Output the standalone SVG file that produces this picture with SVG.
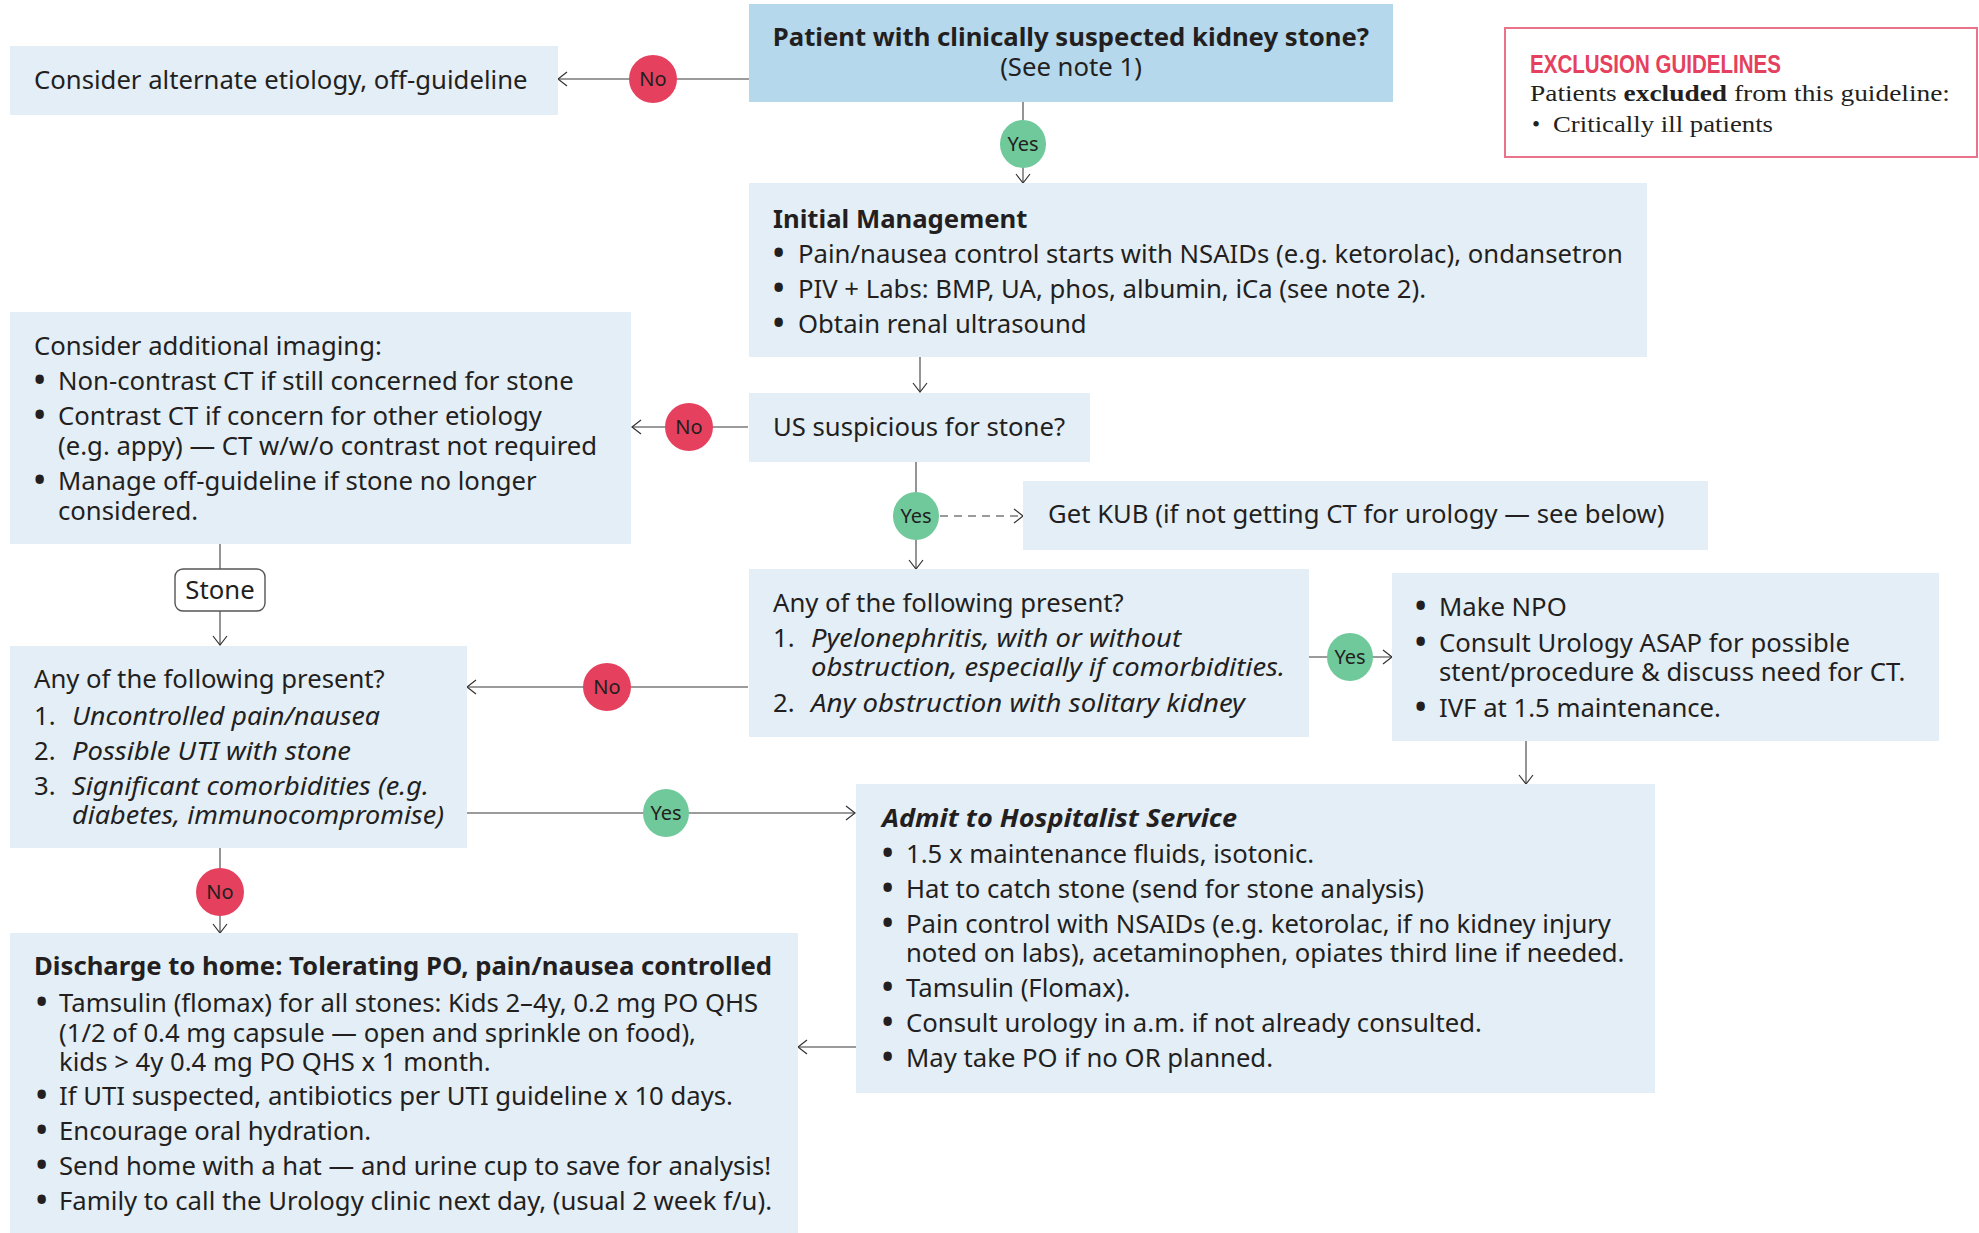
<svg xmlns="http://www.w3.org/2000/svg" width="1979" height="1233" viewBox="0 0 1979 1233">
<style>
.box{fill:#e3eef7}
.top{fill:#b5d8ec}
.t{font-family:"Noto Sans",sans-serif;font-size:25.7px;fill:#231f20}
.b{font-weight:bold}
.i{font-style:italic}
.bu{font-family:"Noto Sans",sans-serif;font-size:30px;font-weight:bold;fill:#231f20}
.ln{stroke:#7a7a7a;stroke-width:1.6;fill:none}
.no{fill:#e5405e}
.yes{fill:#6fc99a}
.lbl{font-family:"Noto Sans",sans-serif;font-size:20px;fill:#231f20;text-anchor:middle}
</style>
<defs>
<marker id="arr" viewBox="-11 -8 13 16" refX="0" refY="0" markerWidth="13" markerHeight="16" markerUnits="userSpaceOnUse" orient="auto">
<path d="M-9,-7 L0,0 L-9,7" fill="none" stroke="#333" stroke-width="1.2"/>
</marker>
</defs>

<g id="connectors">
<path class="ln" d="M749,79 H558" marker-end="url(#arr)"/>
<path class="ln" d="M1023,102 V183" marker-end="url(#arr)"/>
<path class="ln" d="M920,357 V392" marker-end="url(#arr)"/>
<path class="ln" d="M748,427 H632" marker-end="url(#arr)"/>
<path class="ln" d="M916,462 V569" marker-end="url(#arr)"/>
<path class="ln" d="M940,516 H1023" stroke-dasharray="8,6" marker-end="url(#arr)"/>
<path class="ln" d="M220,544 V569"/>
<path class="ln" d="M220,611 V645" marker-end="url(#arr)"/>
<path class="ln" d="M748,687 H467" marker-end="url(#arr)"/>
<path class="ln" d="M1309,657 H1392" marker-end="url(#arr)"/>
<path class="ln" d="M1526,741 V784" marker-end="url(#arr)"/>
<path class="ln" d="M467,813 H855" marker-end="url(#arr)"/>
<path class="ln" d="M220,848 V933" marker-end="url(#arr)"/>
<path class="ln" d="M856,1047 H798" marker-end="url(#arr)"/>

<circle class="no" cx="653" cy="79" r="24"/><text class="lbl" x="653" y="86">No</text>
<ellipse class="yes" cx="1023" cy="144" rx="23" ry="24"/><text class="lbl" x="1023" y="151">Yes</text>
<circle class="no" cx="689" cy="427" r="24"/><text class="lbl" x="689" y="434">No</text>
<ellipse class="yes" cx="916" cy="516" rx="23" ry="24"/><text class="lbl" x="916" y="523">Yes</text>
<circle class="no" cx="607" cy="687" r="24"/><text class="lbl" x="607" y="694">No</text>
<ellipse class="yes" cx="1350" cy="657" rx="23" ry="24"/><text class="lbl" x="1350" y="664">Yes</text>
<ellipse class="yes" cx="666" cy="813" rx="23" ry="24"/><text class="lbl" x="666" y="820">Yes</text>
<circle class="no" cx="220" cy="892" r="24"/><text class="lbl" x="220" y="899">No</text>
</g>

<g id="start">
<rect class="top" x="749" y="4" width="644" height="98"/>
<text class="t b" x="1071" y="46" text-anchor="middle">Patient with clinically suspected kidney stone?</text>
<text class="t" x="1071" y="76" text-anchor="middle">(See note 1)</text>
</g>

<g id="exclusion">
<rect x="1505" y="28" width="472" height="129" fill="#fff" stroke="#e8738a" stroke-width="2"/>
<text x="1530" y="73" font-family="'Liberation Sans',sans-serif" font-weight="bold" font-size="25" fill="#e5405e" textLength="251" lengthAdjust="spacingAndGlyphs">EXCLUSION GUIDELINES</text>
<text x="1530" y="101" font-family="'Liberation Serif',serif" font-size="23" fill="#231f20" textLength="420" lengthAdjust="spacingAndGlyphs">Patients <tspan font-weight="bold">excluded</tspan> from this guideline:</text>
<text x="1532" y="132" font-family="'Liberation Serif',serif" font-size="23" fill="#231f20">•</text>
<text x="1553" y="132" font-family="'Liberation Serif',serif" font-size="23" fill="#231f20" textLength="220" lengthAdjust="spacingAndGlyphs">Critically ill patients</text>
</g>

<g id="alternate">
<rect class="box" x="10" y="46" width="548" height="69"/>
<text class="t" x="34" y="89">Consider alternate etiology, off-guideline</text>
</g>

<g id="initial">
<rect class="box" x="749" y="183" width="898" height="174"/>
<text class="t b" x="773" y="228">Initial Management</text>
<text class="bu" x="773" y="263">•</text><text class="t" x="798" y="263">Pain/nausea control starts with NSAIDs (e.g. ketorolac), ondansetron</text>
<text class="bu" x="773" y="298">•</text><text class="t" x="798" y="298">PIV + Labs: BMP, UA, phos, albumin, iCa (see note 2).</text>
<text class="bu" x="773" y="333">•</text><text class="t" x="798" y="333">Obtain renal ultrasound</text>
</g>

<g id="us">
<rect class="box" x="749" y="393" width="341" height="69"/>
<text class="t" x="773" y="436">US suspicious for stone?</text>
</g>

<g id="imaging">
<rect class="box" x="10" y="312" width="621" height="232"/>
<text class="t" x="34" y="355">Consider additional imaging:</text>
<text class="bu" x="34" y="390">•</text><text class="t" x="58" y="390">Non-contrast CT if still concerned for stone</text>
<text class="bu" x="34" y="425">•</text><text class="t" x="58" y="425">Contrast CT if concern for other etiology</text>
<text class="t" x="58" y="455">(e.g. appy) — CT w/w/o contrast not required</text>
<text class="bu" x="34" y="490">•</text><text class="t" x="58" y="490">Manage off-guideline if stone no longer</text>
<text class="t" x="58" y="520">considered.</text>
</g>

<g id="kub">
<rect class="box" x="1023" y="481" width="685" height="69"/>
<text class="t" x="1048" y="523">Get KUB (if not getting CT for urology — see below)</text>
</g>

<g id="stone">
<rect x="175" y="569" width="90" height="42" rx="8" fill="#fff" stroke="#555" stroke-width="1.4"/>
<text class="t" x="220" y="599" text-anchor="middle">Stone</text>
</g>

<g id="any-right">
<rect class="box" x="749" y="569" width="560" height="168"/>
<text class="t" x="773" y="612">Any of the following present?</text>
<text class="t" x="773" y="647">1.</text><text class="t i" x="811" y="647" textLength="370" lengthAdjust="spacingAndGlyphs">Pyelonephritis, with or without</text>
<text class="t i" x="811" y="676" textLength="474" lengthAdjust="spacingAndGlyphs">obstruction, especially if comorbidities.</text>
<text class="t" x="773" y="712">2.</text><text class="t i" x="811" y="712" textLength="434" lengthAdjust="spacingAndGlyphs">Any obstruction with solitary kidney</text>
</g>

<g id="npo">
<rect class="box" x="1392" y="573" width="547" height="168"/>
<text class="bu" x="1415" y="616">•</text><text class="t" x="1439" y="616">Make NPO</text>
<text class="bu" x="1415" y="652">•</text><text class="t" x="1439" y="652">Consult Urology ASAP for possible</text>
<text class="t" x="1439" y="681">stent/procedure &amp; discuss need for CT.</text>
<text class="bu" x="1415" y="717">•</text><text class="t" x="1439" y="717">IVF at 1.5 maintenance.</text>
</g>

<g id="any-left">
<rect class="box" x="10" y="646" width="457" height="202"/>
<text class="t" x="34" y="688">Any of the following present?</text>
<text class="t" x="34" y="725">1.</text><text class="t i" x="72" y="725" textLength="308" lengthAdjust="spacingAndGlyphs">Uncontrolled pain/nausea</text>
<text class="t" x="34" y="760">2.</text><text class="t i" x="72" y="760" textLength="279" lengthAdjust="spacingAndGlyphs">Possible UTI with stone</text>
<text class="t" x="34" y="795">3.</text><text class="t i" x="72" y="795" textLength="357" lengthAdjust="spacingAndGlyphs">Significant comorbidities (e.g.</text>
<text class="t i" x="72" y="824" textLength="372" lengthAdjust="spacingAndGlyphs">diabetes, immunocompromise)</text>
</g>

<g id="admit">
<rect class="box" x="856" y="784" width="799" height="309"/>
<text class="t b i" x="882" y="827" textLength="355" lengthAdjust="spacingAndGlyphs">Admit to Hospitalist Service</text>
<text class="bu" x="882" y="863">•</text><text class="t" x="906" y="863">1.5 x maintenance fluids, isotonic.</text>
<text class="bu" x="882" y="898">•</text><text class="t" x="906" y="898">Hat to catch stone (send for stone analysis)</text>
<text class="bu" x="882" y="933">•</text><text class="t" x="906" y="933">Pain control with NSAIDs (e.g. ketorolac, if no kidney injury</text>
<text class="t" x="906" y="962">noted on labs), acetaminophen, opiates third line if needed.</text>
<text class="bu" x="882" y="997">•</text><text class="t" x="906" y="997">Tamsulin (Flomax).</text>
<text class="bu" x="882" y="1032">•</text><text class="t" x="906" y="1032">Consult urology in a.m. if not already consulted.</text>
<text class="bu" x="882" y="1067">•</text><text class="t" x="906" y="1067">May take PO if no OR planned.</text>
</g>

<g id="discharge">
<rect class="box" x="10" y="933" width="788" height="300"/>
<text class="t b" x="34" y="975">Discharge to home: Tolerating PO, pain/nausea controlled</text>
<text class="bu" x="36" y="1012">•</text><text class="t" x="59" y="1012">Tamsulin (flomax) for all stones: Kids 2–4y, 0.2 mg PO QHS</text>
<text class="t" x="59" y="1042">(1/2 of 0.4 mg capsule — open and sprinkle on food),</text>
<text class="t" x="59" y="1071">kids &gt; 4y 0.4 mg PO QHS x 1 month.</text>
<text class="bu" x="36" y="1105">•</text><text class="t" x="59" y="1105">If UTI suspected, antibiotics per UTI guideline x 10 days.</text>
<text class="bu" x="36" y="1140">•</text><text class="t" x="59" y="1140">Encourage oral hydration.</text>
<text class="bu" x="36" y="1175">•</text><text class="t" x="59" y="1175">Send home with a hat — and urine cup to save for analysis!</text>
<text class="bu" x="36" y="1210">•</text><text class="t" x="59" y="1210">Family to call the Urology clinic next day, (usual 2 week f/u).</text>
</g>
</svg>
